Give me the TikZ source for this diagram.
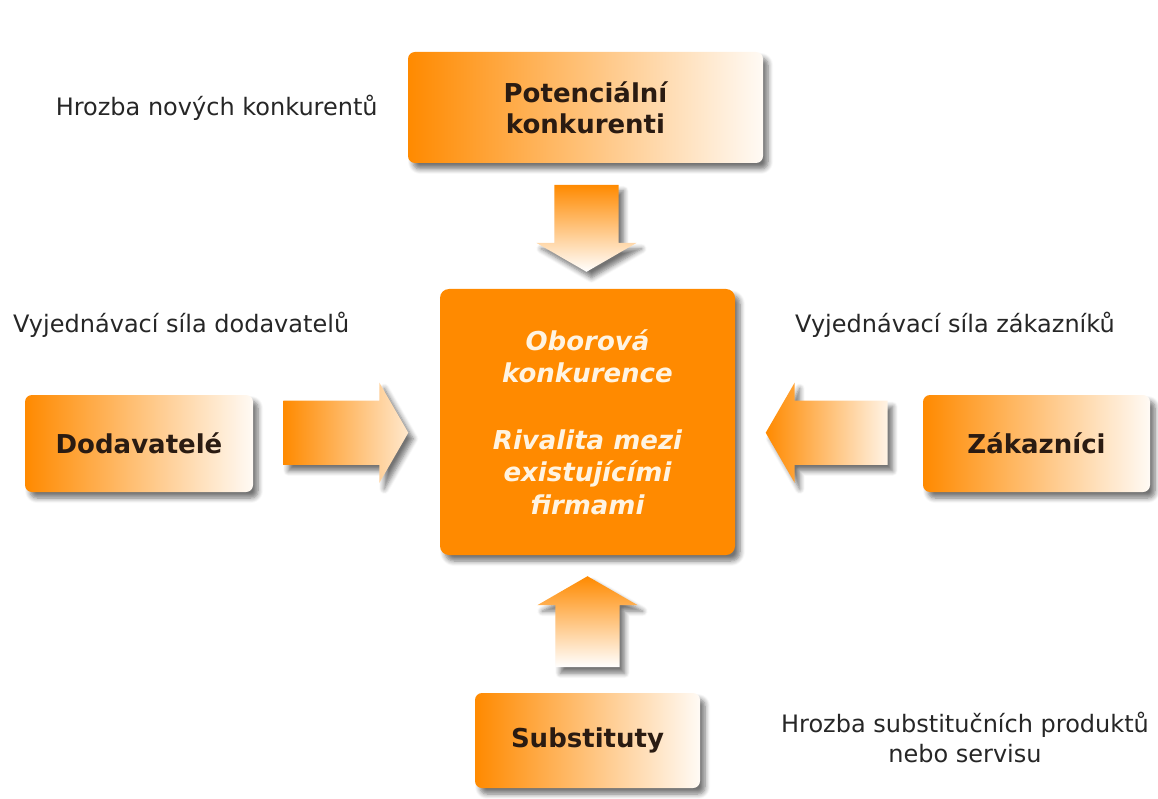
\documentclass[tikz,border=0pt]{standalone}
\usepackage{fontspec}
\setmainfont{DejaVu Sans}
\usepackage{tikz}
\usetikzlibrary{positioning,calc,shapes.arrows,shadows.blur}
\definecolor{porter}{HTML}{FF8A00}
\definecolor{boxtext}{HTML}{2A1B12}
\definecolor{cream}{HTML}{FFF4E2}
\tikzset{
  softshadow/.style={blur shadow={shadow xshift=5pt, shadow yshift=-6pt, shadow blur steps=6,
    shadow blur radius=5pt, shadow opacity=55}},
  force/.style={rounded corners=7pt, left color=porter, right color=white!96!porter, text=boxtext,
    font=\bfseries\fontsize{26}{31}\selectfont, align=center, inner sep=0pt, softshadow},
  core/.style={rounded corners=9pt, fill=porter, text=cream,
    font=\bfseries\itshape\fontsize{26}{32.5}\selectfont, align=center, inner sep=0pt, softshadow},
  push/.style={single arrow, single arrow head extend=18pt, single arrow tip angle=120,
    minimum width=100pt, inner sep=32pt, softshadow},
  note/.style={font=\fontsize{24}{30}\selectfont, text=black!85, inner sep=0pt, align=center}
}
\begin{document}
\begin{tikzpicture}[x=1pt, y=-1pt]
  % frame of the picture
  \useasboundingbox (0,0) rectangle (1158,799);
  % the five forces
  \node[force, minimum width=355pt, minimum height=111pt] (pot) at (585.5,107.5) {Potenciální\\konkurenti};
  \node[core, minimum width=295pt, minimum height=266pt] (rival) at (587.5,422)
    {Oborová\\konkurence\\[34pt]Rivalita mezi\\existujícími\\firmami};
  \node[force, minimum width=228pt, minimum height=97pt] (dod) at (139,443.5) {Dodavatelé};
  \node[force, minimum width=227pt, minimum height=97pt] (zak) at (1036.5,443.5) {Zákazníci};
  \node[force, minimum width=225pt, minimum height=95pt] (sub) at (587.5,740.5) {Substituty};
  % arrows towards the centre
  \node[push, shape border rotate=270, minimum height=87pt, top color=porter, bottom color=white]
    (newin) at ($(pot.south)!.5!(rival.north)+(0,-7)$) {};
  \node[push, shape border rotate=0, minimum height=125pt, left color=porter, right color=porter!20]
    (supin) at ($(dod.east)!.5!(rival.west)+(-10,0)$) {};
  \node[push, shape border rotate=180, minimum height=122pt, left color=porter, right color=porter!10]
    (cusin) at ($(zak.west)!.5!(rival.east)+(7,0)$) {};
  \node[push, shape border rotate=90, minimum height=91pt, top color=porter, bottom color=white]
    (subin) at ($(sub.north)!.5!(rival.south)+(0,7)$) {};
  % labels
  \node[note, left=30pt of pot] (lpot) {Hrozba nových konkurentů};
  \node[note, anchor=west] (ldod) at (13,325) {Vyjednávací síla dodavatelů};
  \node[note, anchor=west] (lzak) at (795,325) {Vyjednávací síla zákazníků};
  \node[note] (lsub) at (965,737) {Hrozba substitučních produktů\\nebo servisu};
\end{tikzpicture}
\end{document}
